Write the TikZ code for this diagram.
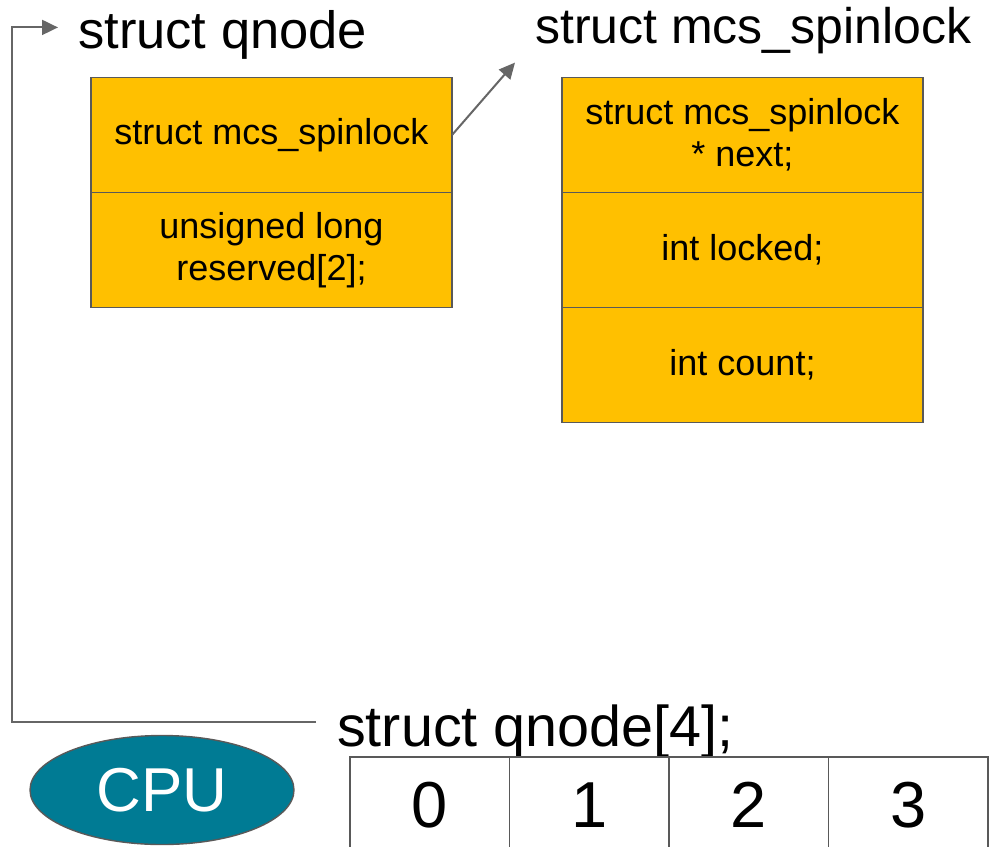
\documentclass[tikz,border=0pt]{standalone}
\usepackage{fontspec}
\setmainfont{Liberation Sans}
\usetikzlibrary{positioning,arrows.meta,shapes.geometric}
\definecolor{lockorange}{RGB}{255,192,0}
\definecolor{boxgray}{RGB}{89,89,89}
\definecolor{linkgray}{RGB}{102,102,102}
\definecolor{cputeal}{RGB}{0,123,148}
\begin{document}
\begin{tikzpicture}[
  x=1pt, y=-1pt,
  field/.style={rectangle, draw=boxgray, fill=lockorange, line width=1.7pt, minimum width=361pt, minimum height=115pt, inner sep=0pt, outer sep=0pt, align=center, font=\fontsize{36}{42}\selectfont},
  title/.style={anchor=base west, inner sep=0pt, font=\fontsize{50}{60}\selectfont},
  cell/.style={rectangle, draw=boxgray, line width=1.7pt, minimum width=159.5pt, minimum height=96pt, inner sep=0pt, outer sep=0pt, font=\fontsize{65}{70}\selectfont},
  link/.style={draw=linkgray, line width=2pt},
  >={Triangle[length=16pt, width=15pt]}
]
  \clip (0,0) rectangle (990,846);
  % titles
  \node[title, font=\fontsize{52.5}{60}\selectfont] (qtitle) at (78,48) {struct qnode};
  \node[title] (mtitle) at (535,43) {struct mcs\_spinlock};
  \node[title, font=\fontsize{57.5}{62}\selectfont] (arrtitle) at (337,746) {struct qnode[4];};
  % struct qnode
  \node[field] (q1) at (271.5,135) {struct mcs\_spinlock};
  \node[field, below=0pt of q1] (q2) {unsigned long\\reserved[2];};
  % struct mcs_spinlock
  \node[field] (m1) at (742.5,135) {struct mcs\_spinlock\\* next;};
  \node[field, below=0pt of m1] (m2) {int locked;};
  \node[field, below=0pt of m2] (m3) {int count;};
  % per-cpu array
  \node[cell, anchor=north west] (c0) at (350,757) {0};
  \node[cell, right=0pt of c0] (c1) {1};
  \node[cell, right=0pt of c1] (c2) {2};
  \node[cell, right=0pt of c2] (c3) {3};
  \node[ellipse, draw=boxgray, fill=cputeal, line width=1.4pt, minimum width=264pt, minimum height=109pt, inner sep=0pt, text=white, font=\fontsize{62}{66}\selectfont] (cpu) at (162,790) {CPU};
  % links
  \draw[link, ->] (q1.east) -- ([xshift=-20pt, yshift=-9pt]mtitle.south west);
  \draw[link, ->] ([xshift=-21pt, yshift=9pt]arrtitle.west) -- ++(-304,0) |- ([xshift=-20pt, yshift=7pt]qtitle.west);
\end{tikzpicture}
\end{document}
